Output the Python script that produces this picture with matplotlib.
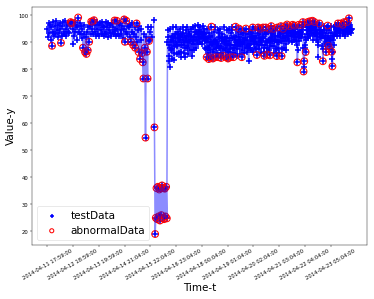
import numpy as np
import matplotlib
matplotlib.use('Agg')
import matplotlib.pyplot as plt

time_labels = ['2014-04-11 17:59:00', '2014-04-12 18:59:00', '2014-04-13 19:59:00',
               '2014-04-14 21:04:00', '2014-04-15 22:04:00', '2014-04-16 23:04:00',
               '2014-04-18 00:04:00', '2014-04-19 01:04:00', '2014-04-20 02:04:00',
               '2014-04-21 03:04:00', '2014-04-22 04:04:00', '2014-04-23 05:04:00']
step = 40          # samples between stored points (first block and drop)
step2 = 20         # samples between stored points (second block)
tick_every = 1500  # samples between tick labels

# first block, before the drop
part1 = [95, 92, 97, 93.5, 96.5, 91, 95.5,
         88.7, 94, 97.5, 92.5, 96, 93, 98, 94.5, 92, 96.5,
         93.5, 97, 95, 89.8, 96, 92.5, 97.5, 94, 93, 98,
         95, 92.5, 96.5, 94, 97,
         93.5, 96, 97.5, 97, 97.2, 89.4, 95, 92.5, 97.5, 94,
         96.5, 91, 95.5, 99.2, 94, 97, 93,
         96, 91.5, 95, 88, 93, 96.5, 86.4, 92, 85.7, 94,
         87, 95.5, 90.2, 96, 93, 97.7,
         95, 97.7, 93, 98.2, 94, 96.5, 92.5, 97.5, 95, 93,
         96.5, 92.5, 97, 94.5, 93, 97.5, 95.5, 92.5, 96, 94,
         97.5, 93, 95.5, 92, 97, 94.5, 93.5, 96.5, 92.5, 97,
         94, 95.5, 93, 98.1, 94.5, 92.5, 98, 95, 93, 96.5,
         92.5, 97, 94.5, 93, 96, 91.5, 95, 98.5, 90.2, 94,
         98, 93, 96, 90, 95.5, 92,
         96.5, 90.2, 94, 97, 89, 93, 95.5, 88, 92, 97,
         90, 94.5, 86.4, 96, 83.8, 91, 95, 86, 82.6, 76.6,
         93, 88, 54.7, 92, 86.5, 76.6,
         95.8, 90.5, 94, 91, 95.5, 92]

# the drop
part2 = [np.nan, np.nan, 98.2, 58.5, 19,
         25, 36, 24.5, 36.5, 25.5, 35.5, 24, 36, 26, 37, 25, 36, 24.5, 35.8, 25.5, 36.5, 24.8]

# second block, every other sample
part3 = [90, 94.5, 85, 80.8, 95, 87, 92.5, 84, 95.5, 88.5,
         83.5, 93, 90, 95.5, 85.5, 91.5, 94, 86,
         95, 89, 84.5, 93, 91, 95.5, 86, 92.5, 84.5, 94.5,
         88, 95.8, 85.5, 91, 94, 87, 95, 89.5, 85,
         95.5, 87, 92, 96, 88, 94, 91, 96.5, 89.5, 93,
         95.5, 90, 94, 89.5, 96, 91.5, 95, 88, 93.5,
         91, 84.5, 95, 88, 83.8, 93.5, 90, 84.5, 95.8, 89,
         84, 94, 87.5, 95.5, 84.5, 91, 86, 94.5, 84.5, 92,
         95, 88, 84.2, 93, 90.5, 85, 95.5, 87, 92, 84.5,
         94.5, 89, 84, 95, 86.5, 91.5, 84.5, 93.5, 95.5, 88,
         84.5, 92, 86, 95.8, 90, 85, 94, 88.5, 95.1, 85.5,
         91, 95, 84.5, 89.5, 93.5, 86,
         94.5, 88, 95.1, 91, 86.5, 93, 83, 95, 89.5, 87,
         94, 91.5, 95.5, 86.5, 92.5, 88, 95, 90, 85.3, 93.5,
         95.5, 87.5, 91, 95, 86, 94.5, 89, 95.5, 88, 85,
         93, 95.5, 90.5, 85.5, 94, 87, 95, 85.2, 91.5, 96,
         88.5, 93, 95, 86, 91, 94.5, 87.5, 84.9, 95.5, 90,
         86, 94, 92, 96, 84.9, 90.5, 95, 88, 93.5, 96, 87, 92,
         96.6, 91, 94.5, 90.5, 96, 92.5, 95, 90, 96.5, 93,
         91, 96.2, 93.5, 90.5, 95.5, 82.6, 92, 96.5, 90.5, 94,
         91.5, 96.5, 93, 97.5, 79.2, 83,
         92, 86.4, 96.5, 93, 97.5, 91.5, 95, 97.8, 92.5, 96,
         93.5, 98, 91, 95.5, 97.5, 92.5, 96.5, 91, 94, 84.5,
         95.5, 97, 92, 94.5, 91.5,
         94, 83, 92.5, 96, 89.5, 93.5, 86.4, 95, 96.2, 88.7,
         94.5, 87.5, 91, 96, 86.5, 81.1, 92.5, 89, 95.5,
         93, 96.5, 92.5, 95, 97, 93.5, 96, 92.5, 97, 94.5,
         95.5, 96.5, 93, 97.5, 92.5, 95.5, 94, 97.5, 93, 96,
         98.9, 94, 96.5, 93.5, 95]

# second block, the samples in between
part3_mid = [92, 89, 83, 88, 91, 90, 87.5, 90.5, 92, 86,
             89, 91.5, 93, 88.5, 89, 93, 90, 91,
             92.5, 86.5, 89, 92, 93.5, 90, 89, 88, 90.5, 91.5,
             92.5, 90, 88.5, 93, 90.5, 92, 92.5, 87, 90.5,
             91, 89.5, 94, 92, 91, 93, 94, 93, 91.5, 94.5,
             93, 92, 91.5, 93, 93.5, 93, 91.5, 90.5, 92,
             87.5, 90, 91.5, 86, 88.5, 92, 87, 90, 92.5, 86.5,
             89.5, 91, 90.5, 90, 88, 88.5, 90, 89.5, 88, 93.5,
             91.5, 86, 88.5, 91.5, 87.5, 90, 91, 89.5, 88, 90.5,
             91.5, 86.5, 89.5, 90.5, 89, 87.5, 89, 94.5, 91.5, 86,
             88, 89, 91, 92.5, 87.5, 89.5, 91, 92, 90, 88.5,
             93, 90, 87, 91.5, 89.5, 90,
             91, 91.5, 93, 88.5, 89.5, 88, 89, 92, 88, 90.5,
             92.5, 93.5, 91, 89.5, 90, 91.5, 92.5, 87.5, 89.5, 94.5,
             91.5, 89, 93, 90.5, 90, 91.5, 92, 91.5, 86.5, 89,
             94, 93, 88, 90, 90.5, 91, 90, 88.5, 93.5, 92,
             90.5, 94, 90.5, 88.5, 92.5, 91, 86, 90, 92.5, 88,
             90, 93, 94, 90.5, 87.5, 92.5, 91.5, 90.5, 94.5, 91.5, 89.5, 94,
             93.5, 92.5, 92.5, 93.5, 94.5, 93.5, 92.5, 93.5, 94.5, 92,
             93.5, 95, 92, 93, 89, 87, 94, 93.5, 92.5, 92.5,
             94, 94.5, 95.5, 88, 81, 88,
             89, 91, 94.5, 95.5, 94.5, 93, 96.5, 95, 94.5, 94.5,
             96, 94.5, 93, 96.5, 95, 94.5, 93.5, 92.5, 89, 90,
             96.5, 94.5, 93, 93, 92.5,
             88.5, 87.5, 94.5, 92.5, 91.5, 90, 91, 95.5, 92.5, 91.5,
             91, 89.5, 93.5, 91, 84, 86.5, 91, 92.5, 94,
             95, 94.5, 93.5, 96, 95, 95, 94.5, 94.5, 95.5, 95,
             96, 94.5, 95.5, 95, 94, 94.5, 95.5, 95, 94.5, 97,
             96.5, 95, 95, 94.5]

# positions (counted in part1 + part2 + part3) flagged as abnormal
abnormal_idx = [7, 20, 34, 35, 36, 45, 52, 55, 57, 59, 61, 64, 66, 68, 98, 101, 112, 113, 115,
                122, 125, 128, 130, 133, 135, 138, 139, 140, 142, 143, 145, 146, 148,
                156, 157] + list(range(158, 175)) + \
               [232, 235, 238, 239, 241, 245, 249, 253, 256, 260, 263, 267, 271, 274, 279, 283,
                289, 299, 305, 307, 310, 314, 316, 318, 320, 323, 324, 326, 329, 334, 335,
                340, 341, 343, 346, 349, 353, 357, 360, 364, 366, 370, 372, 373, 374,
                376, 379, 382, 386, 389, 396, 401, 406, 408, 409, 411, 414, 415,
                423, 427, 430, 432, 436, 439]

first = np.array(part1 + part2)
n1 = len(first)
second = np.empty(2 * len(part3) - 1)
second[0::2] = part3
second[1::2] = part3_mid

values = np.concatenate([first, second])
x = np.concatenate([np.arange(n1) * step, n1 * step + np.arange(len(second)) * step2])
abn = np.array([k if k < n1 else n1 + 2 * (k - n1) for k in abnormal_idx])

fig = plt.figure(figsize=(10, 8))
plt.subplots_adjust(left=0.0856, right=0.981, bottom=0.181, top=0.977)
plt.plot(x, values, color='b', alpha=0.45, lw=3)
plt.scatter(x, values, marker='+', c='b', s=130, linewidths=3, label='testData')
plt.scatter(x[abn], values[abn], facecolors='none', edgecolors='r',
            s=170, linewidths=2, label='abnormalData')
plt.xticks(np.arange(len(time_labels)) * tick_every, time_labels, rotation=30)
plt.xlabel('Time-t', fontsize=20)
plt.ylabel('Value-y', fontsize=20)
plt.legend(loc='lower left', fontsize=20, markerscale=0.6)
plt.savefig('out.png', dpi=37.4)
